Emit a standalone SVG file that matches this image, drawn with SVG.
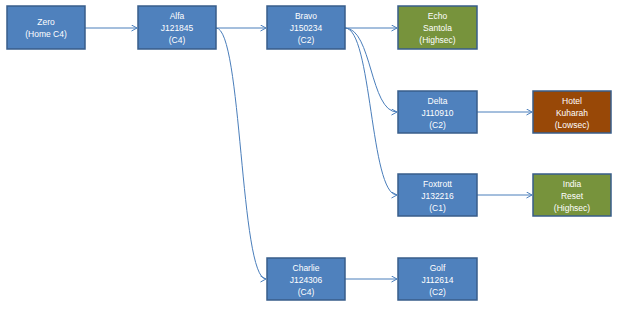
<svg xmlns="http://www.w3.org/2000/svg" width="619" height="310" viewBox="0 0 619 310">
<style>
.n rect{stroke:#385D8A;stroke-width:1.5}
.b rect{fill:#4F81BD}
.g rect{fill:#77933C;stroke:#385D8A}
.h rect{fill:#984807;stroke:#385D8A}
text{font-family:"Liberation Sans",Arial,sans-serif;font-size:8.5px;fill:#fff;text-anchor:middle}
.c path{fill:none;stroke:#4A7EBB;stroke-width:1;marker-end:url(#a)}
</style>
<defs>
<marker id="a" markerWidth="8" markerHeight="8" refX="6" refY="3.5" orient="auto" markerUnits="userSpaceOnUse">
<path d="M0.5,0.5 L6,3.5 L0.5,6.5" fill="none" stroke="#4A7EBB" stroke-width="1"/>
</marker>
</defs>
<rect width="619" height="310" fill="#fff"/>
<g class="c">
<path d="M85,28 L137,28"/>
<path d="M216,28 L266,28"/>
<path d="M345,28 L397,28"/>
<path d="M216,28 C242,28 240,279 266,279"/>
<path d="M345,28 C372,28 370,112 397,112"/>
<path d="M345,28 C372,28 370,195 397,195"/>
<path d="M477,112 L532,112"/>
<path d="M477,195 L532,195"/>
<path d="M345,279 L397,279"/>
</g>
<g id="zero" class="n b"><rect x="7" y="6" width="78" height="43"/><text x="46" y="25">Zero</text><text x="46" y="37">(Home C4)</text></g>
<g id="alfa" class="n b"><rect x="138" y="6" width="78" height="43"/><text x="177" y="19">Alfa</text><text x="177" y="31">J121845</text><text x="177" y="43">(C4)</text></g>
<g id="bravo" class="n b"><rect x="267" y="6" width="78" height="43"/><text x="306" y="19">Bravo</text><text x="306" y="31">J150234</text><text x="306" y="43">(C2)</text></g>
<g id="echo" class="n g"><rect x="398" y="6" width="79" height="43"/><text x="437.5" y="19">Echo</text><text x="437.5" y="31">Santola</text><text x="437.5" y="43">(Highsec)</text></g>
<g id="delta" class="n b"><rect x="398" y="91" width="79" height="42"/><text x="437.5" y="103.5">Delta</text><text x="437.5" y="115.5">J110910</text><text x="437.5" y="127.5">(C2)</text></g>
<g id="hotel" class="n h"><rect x="533" y="91" width="78" height="42"/><text x="572" y="103.5">Hotel</text><text x="572" y="115.5">Kuharah</text><text x="572" y="127.5">(Lowsec)</text></g>
<g id="foxtrott" class="n b"><rect x="398" y="174" width="79" height="42"/><text x="437.5" y="186.5">Foxtrott</text><text x="437.5" y="198.5">J132216</text><text x="437.5" y="210.5">(C1)</text></g>
<g id="india" class="n g"><rect x="533" y="174" width="78" height="42"/><text x="572" y="186.5">India</text><text x="572" y="198.5">Reset</text><text x="572" y="210.5">(Highsec)</text></g>
<g id="charlie" class="n b"><rect x="267" y="258" width="78" height="42"/><text x="306" y="270.5">Charlie</text><text x="306" y="282.5">J124306</text><text x="306" y="294.5">(C4)</text></g>
<g id="golf" class="n b"><rect x="398" y="258" width="79" height="42"/><text x="437.5" y="270.5">Golf</text><text x="437.5" y="282.5">J112614</text><text x="437.5" y="294.5">(C2)</text></g>
</svg>
